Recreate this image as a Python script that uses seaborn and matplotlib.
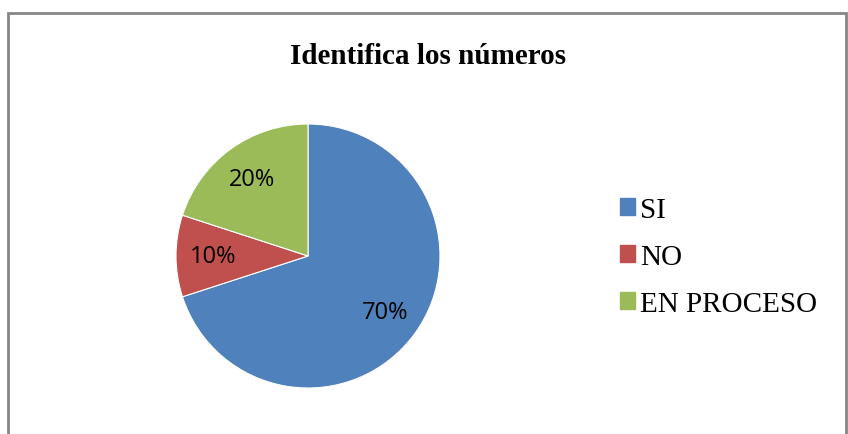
import matplotlib
matplotlib.use("Agg")
import matplotlib.pyplot as plt
import matplotlib.patches as mpatches
import seaborn as sns

categories = ["SI", "NO", "EN PROCESO"]
values = [70, 10, 20]
colors = ["#4F81BD", "#C0504D", "#9BBB59"]
title = "Identifica los números"

sns.set_theme(style="white")
plt.rcParams["font.family"] = ["Liberation Serif", "DejaVu Serif"]
plt.rcParams["text.color"] = "black"

W, H = 848, 435
fig = plt.figure(figsize=(W / 100, H / 100), dpi=100)
fig.patch.set_facecolor("white")

# chart frame
frame = mpatches.Rectangle((8 / W, -0.02), (846 - 8) / W, 1.02 - 14 / H,
                           transform=fig.transFigure, fill=False,
                           edgecolor="#868686", lw=2)
fig.patches.append(frame)

cx, cy, r = 308, 257, 132
ax = fig.add_axes([(cx - r) / W, (H - cy - r) / H, 2 * r / W, 2 * r / H])
wedges, _, autotexts = ax.pie(
    values, colors=colors, startangle=90, counterclock=False,
    autopct="%d%%", pctdistance=0.72,
    wedgeprops={"edgecolor": "white", "linewidth": 0.8},
    textprops={"fontsize": 17, "family": ["Open Sans", "DejaVu Sans"], "color": "black"},
)
ax.set_aspect("equal")
ax.set_xlim(-1, 1)
ax.set_ylim(-1, 1)
ax.axis("off")

fig.text(428 / W, 1 - 57 / H, title, ha="center", va="center",
         fontsize=21, fontweight="bold", color="black")

handles = [mpatches.Patch(color=c, label=l) for c, l in zip(colors, categories)]
fig.legend(handles=handles, loc="center left",
           bbox_to_anchor=(620 / W, 1 - 258 / H), frameon=False,
           fontsize=21, handlelength=0.5, handleheight=0.5,
           handletextpad=0.2, labelspacing=0.72, borderpad=0,
           borderaxespad=0, labelcolor="black")

fig.savefig("out.png", dpi=100, facecolor="white")
